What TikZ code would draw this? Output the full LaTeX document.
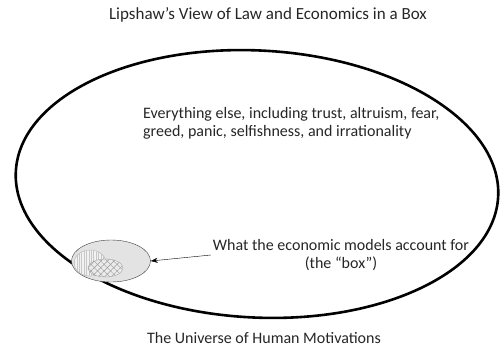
\documentclass[tikz,border=0pt]{standalone}
\usepackage{fontspec}
\setmainfont{Carlito}
\usepackage{tikz}
\usetikzlibrary{shapes}
\usetikzlibrary{shapes.geometric}
\usetikzlibrary{patterns.meta}
\usetikzlibrary{arrows.meta}
\tikzset{
    universe/.style = {ellipse, line width=2.6pt, draw=black, inner sep=0pt},
    boxnode/.style = {ellipse, thin, draw=black!75, fill=black!11, inner sep=0pt},
    hatchv/.style = {pattern={Lines[angle=90,distance=2.4pt,line width=0.3pt]}, pattern color=black!22},
    hatchx/.style = {pattern={Lines[angle=45,distance=4.6pt,line width=0.4pt]}, pattern color=black!40},
    hatchy/.style = {pattern={Lines[angle=-45,distance=4.6pt,line width=0.4pt]}, pattern color=black!40},
    mytext/.style = {align=left, inner sep=2pt, text=black!85, font=\fontsize{16}{17.5}\selectfont},
    mytextc/.style = {align=center, inner sep=2pt, text=black!85, font=\fontsize{16}{17.5}\selectfont},
    edgen/.style = {-{Stealth[length=7pt,width=5pt]},thin,black},
}

\begin{document}
\begin{tikzpicture}[x=1pt,y=-1pt]
\useasboundingbox (0,0) rectangle (501,349);
\node[mytextc, font=\fontsize{17}{19}\selectfont] at (268,15) (title) {Lipshaw's View of Law and Economics in a Box};
\node[universe, minimum width=483, minimum height=267, rotate=-3] at (257,184) (univ) {};
\node[mytext, anchor=west] at (141,123.5) (rest) {Everything else, including trust, altruism, fear,\\greed, panic, selfishness, and irrationality};
%
\node[boxnode, minimum width=79, minimum height=42] at (111,261) (box) {};
\draw[draw=black!30, fill=black!5] (90,263) ellipse [x radius=16, y radius=13];
\fill[hatchv] (90,263) ellipse [x radius=16, y radius=13];
\draw[draw=black!35, fill=black!8] (105.5,268) ellipse [x radius=17.5, y radius=9];
\fill[hatchx] (105.5,268) ellipse [x radius=17.5, y radius=9];
\fill[hatchy] (105.5,268) ellipse [x radius=17.5, y radius=9];
%
\node[mytextc] at (341,255) (boxtext) {What the economic models account for\\(the ``box'')};
\draw[edgen] (boxtext.west) -- (box.east);
\node[mytextc] at (264,338) (label) {The Universe of Human Motivations};
\end{tikzpicture}
\end{document}
